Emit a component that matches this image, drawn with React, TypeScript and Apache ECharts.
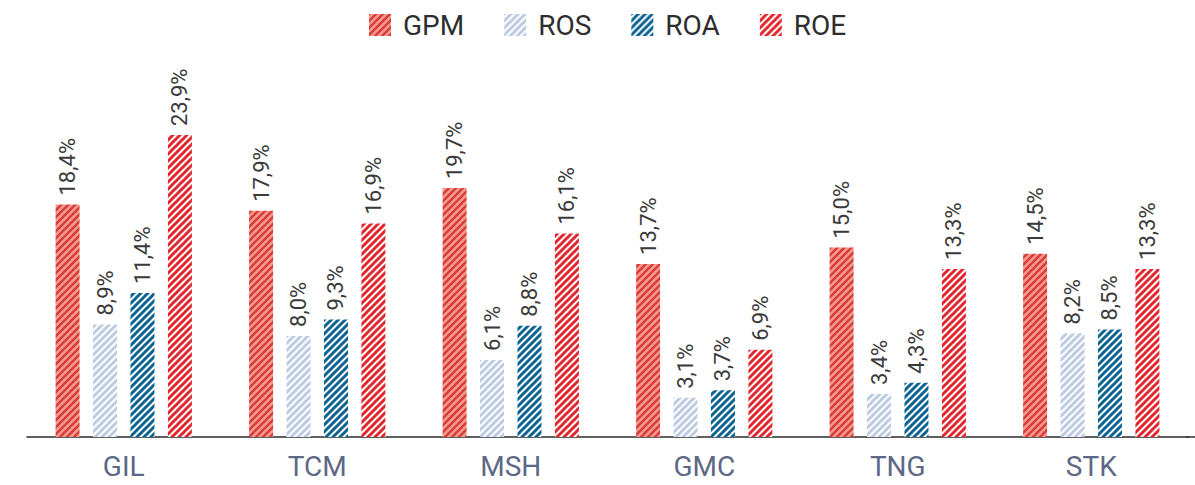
import React, { useEffect, useRef } from "react";
import * as echarts from "echarts";

const categories = ["GIL", "TCM", "MSH", "GMC", "TNG", "STK"];
const seriesNames = ["GPM", "ROS", "ROA", "ROE"];
const gpm = [18.4, 17.9, 19.7, 13.7, 15.0, 14.5];
const ros = [8.9, 8.0, 6.1, 3.1, 3.4, 8.2];
const roa = [11.4, 9.3, 8.8, 3.7, 4.3, 8.5];
const roe = [23.9, 16.9, 16.1, 6.9, 13.3, 13.3];

function makePattern(bg: string, fg: string, lw: number) {
  const s = 7;
  const c = document.createElement("canvas");
  c.width = s;
  c.height = s;
  const ctx = c.getContext("2d")!;
  ctx.fillStyle = bg;
  ctx.fillRect(0, 0, s, s);
  ctx.strokeStyle = fg;
  ctx.lineWidth = lw;
  ctx.lineCap = "square";
  const lines = [
    [-1, s + 1, s + 1, -1],
    [-2, 2, 2, -2],
    [s - 2, s + 2, s + 2, s - 2],
  ];
  for (const [x1, y1, x2, y2] of lines) {
    ctx.beginPath();
    ctx.moveTo(x1, y1);
    ctx.lineTo(x2, y2);
    ctx.stroke();
  }
  return { image: c, repeat: "repeat" as const };
}

export default function App() {
  const ref = useRef<HTMLDivElement>(null);
  useEffect(() => {
    if (!ref.current) return;
    const chart = echarts.init(ref.current, undefined, { renderer: "svg" });
    const patterns = [
      makePattern("#f29d8c", "#db3a3d", 2.4),
      makePattern("#ffffff", "#bccbe1", 3),
      makePattern("#ffffff", "#0b6393", 3),
      makePattern("#ffffff", "#e3262d", 3),
    ];
    const values = [gpm, ros, roa, roe];
    const fmt = (p: any) => (p.value as number).toFixed(1).replace(".", ",") + "%";
    chart.setOption({
      animation: false,
      backgroundColor: "#ffffff",
      legend: {
        top: 6,
        left: 364,
        itemWidth: 22,
        itemHeight: 22,
        itemGap: 40,
        icon: "rect",
        data: seriesNames,
        textStyle: {
          fontFamily: "Roboto",
          fontSize: 28,
          color: "#2e2e2e",
          padding: [0, 0, 0, 7],
        },
      },
      grid: { left: 27, right: 7, top: 58, bottom: 48 },
      xAxis: {
        type: "category",
        data: categories,
        axisLine: { show: true, lineStyle: { color: "#2b2b2b", width: 1.5 } },
        axisTick: { show: false },
        axisLabel: {
          fontFamily: "Roboto",
          fontSize: 28,
          color: "#5d6886",
          margin: 15,
        },
      },
      yAxis: {
        type: "value",
        min: 0,
        max: 30,
        show: false,
        splitLine: { show: false },
      },
      series: seriesNames.map((name, i) => ({
        name,
        type: "bar",
        data: values[i],
        barWidth: 24,
        barGap: "56%",
        itemStyle: { color: patterns[i] },
        label: {
          show: true,
          position: "top",
          rotate: 90,
          align: "left",
          verticalAlign: "middle",
          distance: 9,
          fontFamily: "Roboto",
          fontSize: 22,
          color: "#3a3a3a",
          formatter: fmt,
        },
      })),
      graphic: [
        {
          type: "line",
          shape: { x1: 1186, y1: 437, x2: 1195, y2: 437 },
          style: { stroke: "#2b2b2b", lineWidth: 1.5 },
        },
      ],
    });
    return () => chart.dispose();
  }, []);
  return (
    <div
      ref={ref}
      style={{ position: "absolute", left: 0, top: 0, width: 1195, height: 485 }}
    />
  );
}
